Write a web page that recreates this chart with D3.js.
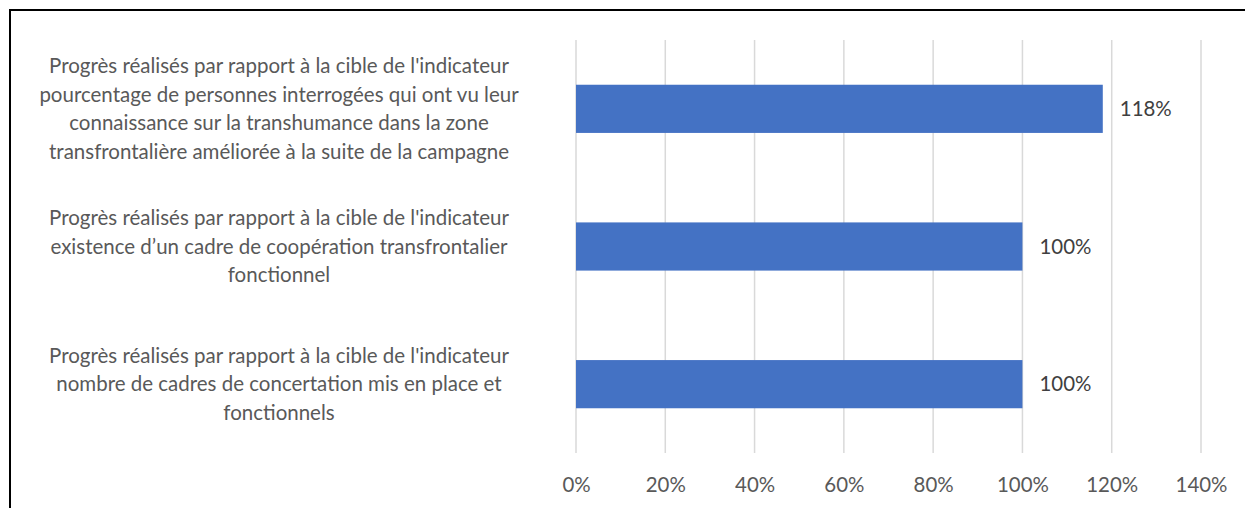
<!DOCTYPE html>
<html><head><meta charset="utf-8">
<script src="https://cdn.jsdelivr.net/npm/d3@7"></script>
<style>html,body{margin:0;padding:0;background:#fff;overflow:hidden}</style>
</head><body>
<svg id="chart" width="1245" height="508"></svg>
<script>
const categories = [
  ["Progrès réalisés par rapport à la cible de l'indicateur",
   "pourcentage de personnes interrogées qui ont vu leur",
   "connaissance sur la transhumance dans la zone",
   "transfrontalière améliorée à la suite de la campagne"],
  ["Progrès réalisés par rapport à la cible de l'indicateur",
   "existence d’un cadre de coopération transfrontalier",
   "fonctionnel"],
  ["Progrès réalisés par rapport à la cible de l'indicateur",
   "nombre de cadres de concertation mis en place et",
   "fonctionnels"]
];
const values = [118, 100, 100];
const ticks = [0, 20, 40, 60, 80, 100, 120, 140];

const FONT = "Lato, 'Open Sans', sans-serif";
const svg = d3.select("#chart");

// measure helper to match reference text widths
function measure(txt, size) {
  const t = svg.append("text").attr("font-family", FONT).attr("font-size", size).text(txt);
  const w = t.node().getComputedTextLength(); t.remove(); return w;
}
const catSize = 20 * 460 / measure(categories[0][0], 20);
const numSize = 20 * 52 / measure("100%", 20);

// border
svg.append("rect").attr("x", 10).attr("y", 10).attr("width", 1250).attr("height", 520)
  .attr("fill", "none").attr("stroke", "#000").attr("stroke-width", 2);

const x = d3.scaleLinear().domain([0, 140]).range([576, 1201]);
const y = d3.scaleBand().domain(d3.range(categories.length)).range([40, 453]).paddingInner(0.65).paddingOuter(0.325);

// gridlines
svg.append("g").selectAll("line").data(ticks).join("line")
  .attr("x1", d => x(d)).attr("x2", d => x(d)).attr("y1", 40).attr("y2", 453)
  .attr("stroke", "#d9d9d9").attr("stroke-width", 1.5);

// x axis labels
const xAxis = d3.axisBottom(x).tickValues(ticks).tickFormat(d => d + "%").tickSize(0).tickPadding(0);
const ga = svg.append("g").attr("transform", "translate(0,485)").call(xAxis);
ga.select(".domain").remove();
ga.selectAll("text").attr("font-family", FONT).attr("font-size", numSize).attr("fill", "#595959")
  .attr("dy", "0.35em").attr("y", 0);

// bars
svg.append("g").selectAll("rect").data(values).join("rect")
  .attr("x", x(0)).attr("y", (d, i) => y(i)).attr("width", d => x(d) - x(0))
  .attr("height", y.bandwidth()).attr("fill", "#4472c4");

// value labels
svg.append("g").selectAll("text").data(values).join("text")
  .attr("x", d => x(d) + 17).attr("y", (d, i) => y(i) + y.bandwidth() / 2)
  .attr("dy", "0.35em").attr("font-family", FONT).attr("font-size", numSize).attr("fill", "#404040")
  .text(d => d + "%");

// category labels
const lineH = 28.6;
const cg = svg.append("g");
categories.forEach((lines, i) => {
  const cy = y(i) + y.bandwidth() / 2;
  const t = cg.append("text").attr("font-family", FONT).attr("font-size", catSize)
    .attr("fill", "#595959").attr("text-anchor", "middle");
  lines.forEach((ln, j) => {
    t.append("tspan").attr("x", 279).attr("y", cy + (j - (lines.length - 1) / 2) * lineH)
      .attr("dy", "0.35em").text(ln);
  });
});
</script>
</body></html>
